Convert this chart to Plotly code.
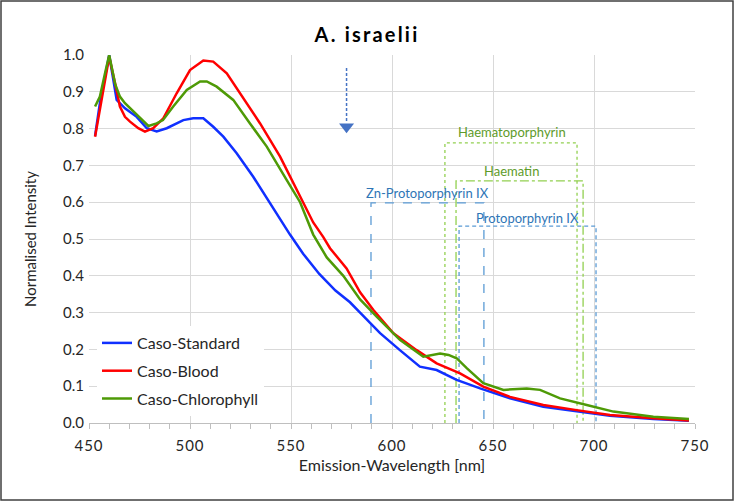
import plotly.graph_objects as go

# ---------------- data ----------------
std_x = [453, 455.4, 457.9, 460, 463.7, 467.8, 473.6, 478.6, 483.5, 488.5, 496.7, 501.6, 506.6, 511.5,
         516.5, 523.1, 531.3, 539.6, 549.5, 556, 564, 572, 579.2, 584.2, 594.1, 603.9, 613.8, 622.1, 632,
         643.6, 658.4, 674.9, 691.4, 707.9, 729.4, 747]
std_y = [0.78, 0.87, 0.94, 1.0, 0.878, 0.855, 0.832, 0.801, 0.792, 0.801, 0.823, 0.828, 0.828, 0.805,
         0.778, 0.733, 0.669, 0.597, 0.512, 0.46, 0.405, 0.36, 0.328, 0.3, 0.244, 0.198, 0.153, 0.144, 0.117,
         0.094, 0.067, 0.044, 0.031, 0.02, 0.011, 0.006]

blood_x = [453, 455.4, 457.9, 460, 462.9, 465.3, 467.8, 470.3, 474.4, 477.7, 481.8, 486.8, 493.4, 500,
           506.6, 511.5, 518.2, 524.8, 534.7, 544.6, 554.5, 561, 566, 569.3, 577.5, 584.2, 590.8, 600.7, 612.2,
           622.1, 633.7, 645.2, 658.4, 674.9, 691.4, 707.9, 729.4, 747]
blood_y = [0.778, 0.85, 0.923, 0.995, 0.923, 0.86, 0.832, 0.819, 0.801, 0.792, 0.801, 0.828, 0.896, 0.959,
           0.985, 0.982, 0.95, 0.896, 0.814, 0.724, 0.615, 0.545, 0.505, 0.475, 0.42, 0.355, 0.307, 0.244, 0.198,
           0.162, 0.135, 0.099, 0.071, 0.049, 0.035, 0.022, 0.013, 0.007]

chl_x = [453, 455.4, 457.9, 460, 463, 465.3, 467.8, 473.6, 479.4, 483.5, 486.6, 491.7, 498.4, 505, 508.3,
         513.2, 521.4, 529.7, 538, 547.9, 554.5, 561, 567.7, 575.9, 584.2, 592.4, 603.9, 615.5, 620, 623.8,
         628, 632, 637, 645.2, 655.2, 661, 666.7, 673.3, 683.2, 696.4, 709.6, 729.4, 747]
chl_y = [0.86, 0.887, 0.95, 1.0, 0.92, 0.887, 0.869, 0.837, 0.807, 0.814, 0.823, 0.86, 0.905, 0.928, 0.928,
         0.914, 0.878, 0.814, 0.751, 0.66, 0.60, 0.512, 0.45, 0.40, 0.336, 0.289, 0.226, 0.18, 0.185, 0.189,
         0.185, 0.176, 0.149, 0.108, 0.09, 0.092, 0.094, 0.09, 0.067, 0.049, 0.031, 0.017, 0.011]

series_names = ["Caso-Standard", "Caso-Blood", "Caso-Chlorophyll"]

# reference bands: name, left nm, right nm, top value, label x, label y
band_names = ["Haematoporphyrin", "Haematin", "Zn-Protoporphyrin IX", "Protoporphyrin IX"]
band_left = [626.2, 631.7, 589.6, 633.2]
band_right = [691.6, 694.6, 645.5, 701.0]
band_top = [0.761, 0.658, 0.598, 0.535]
band_label_x = [659.4, 659.4, 617.5, 667.3]
band_label_y = [0.79, 0.685, 0.625, 0.557]

arrow_x = 577.5
arrow_top = 0.965
arrow_tip = 0.785

x_ticks = [450, 500, 550, 600, 650, 700, 750]
y_ticks = [0.0, 0.1, 0.2, 0.3, 0.4, 0.5, 0.6, 0.7, 0.8, 0.9, 1.0]

# ---------------- figure ----------------
FONT = "Lato"
fig = go.Figure()

band_line_colors = ["#92D050", "#92D050", "#5B9BD5", "#5B9BD5"]
band_dash = ["dot", "dashdot", "dash", "4px,3px"]
band_text_colors = ["#5E9B2A", "#5E9B2A", "#2E75B6", "#2E75B6"]
for i in range(len(band_names)):
    fig.add_trace(go.Scatter(
        x=[band_left[i], band_left[i], band_right[i], band_right[i]],
        y=[0, band_top[i], band_top[i], 0],
        mode="lines", line=dict(color=band_line_colors[i], width=1.3, dash=band_dash[i]),
        showlegend=False, hoverinfo="skip", cliponaxis=False))
    fig.add_annotation(x=band_label_x[i], y=band_label_y[i], text=band_names[i], showarrow=False,
                       font=dict(family=FONT, size=13, color=band_text_colors[i]))

# dashed arrow
fig.add_trace(go.Scatter(x=[arrow_x, arrow_x], y=[arrow_top, arrow_tip + 0.035], mode="lines",
                         line=dict(color="#4472C4", width=1.5, dash="3px,2px"),
                         showlegend=False, hoverinfo="skip"))
fig.add_trace(go.Scatter(x=[arrow_x], y=[arrow_tip + 0.02], mode="markers",
                         marker=dict(symbol="triangle-down", size=13, color="#4472C4"),
                         showlegend=False, hoverinfo="skip"))

colors = ["#1030FF", "#FF0000", "#4E9A06"]
xs = [std_x, blood_x, chl_x]
ys = [std_y, blood_y, chl_y]
for i in range(3):
    fig.add_trace(go.Scatter(x=xs[i], y=ys[i], mode="lines", name=series_names[i],
                             legendgroup=series_names[i],
                             line=dict(color=colors[i], width=2.5)))

W, H = 734, 501
L, R, T, B = 89, 39, 55, 78
pw, ph = W - L - R, H - T - B

fig.add_shape(type="rect", xref="paper", yref="paper",
              x0=-(L - 1) / pw, x1=(W - L - 1) / pw, y0=-(B - 1) / ph, y1=(H - B - 1) / ph,
              line=dict(color="#404040", width=1.5), fillcolor="rgba(0,0,0,0)")

fig.update_layout(
    width=W, height=H,
    margin=dict(l=L, r=R, t=T, b=B),
    paper_bgcolor="white", plot_bgcolor="white",
    title=dict(text="<b>A. israelii</b>", x=0.5, xref="container", y=1 - 35 / H, yanchor="middle",
               font=dict(family=FONT, size=20, color="#000000")),
    font=dict(family=FONT, color="#262626"),
    legend=dict(x=(97 - L) / pw, y=(423 - 326) / ph, xanchor="left", yanchor="top",
                bgcolor="white", font=dict(family=FONT, size=16, color="#262626"),
                tracegroupgap=4, itemwidth=30),
    showlegend=True,
)
fig.update_xaxes(range=[450, 750], tickvals=x_ticks, showgrid=True, gridcolor="#D9D9D9", gridwidth=1,
                 showline=True, linecolor="#BFBFBF", linewidth=1, zeroline=False,
                 ticks="outside", ticklen=5, tickcolor="#BFBFBF", ticklabelstandoff=4,
                 minor=dict(dtick=10, ticks="outside", ticklen=5, tickcolor="#BFBFBF", showgrid=False),
                 tickfont=dict(family=FONT, size=15, color="#262626"),
                 title=dict(text="Emission-Wavelength [nm]", font=dict(family=FONT, size=16, color="#262626"),
                            standoff=6))
fig.update_yaxes(range=[0, 1.0], tickvals=y_ticks, tickformat=".1f", showgrid=True, gridcolor="#D9D9D9",
                 gridwidth=1, showline=False, zeroline=False, ticks="",
                 tickfont=dict(family=FONT, size=15, color="#262626"), ticklabelstandoff=4,
                 title=dict(text="Normalised Intensity", font=dict(family=FONT, size=15, color="#262626"),
                            standoff=22))

post = """
document.body.style.margin = '0px';
document.body.style.overflow = 'hidden';
function spacing(){
  document.querySelectorAll('.gtitle').forEach(function(e){ e.style.letterSpacing = '2.2px'; });
  document.querySelectorAll('.xtick text').forEach(function(e){ e.style.letterSpacing = '1px'; });
}
spacing();
"""
fig.write_html("out.html", post_script=post, config={"displayModeBar": False})
